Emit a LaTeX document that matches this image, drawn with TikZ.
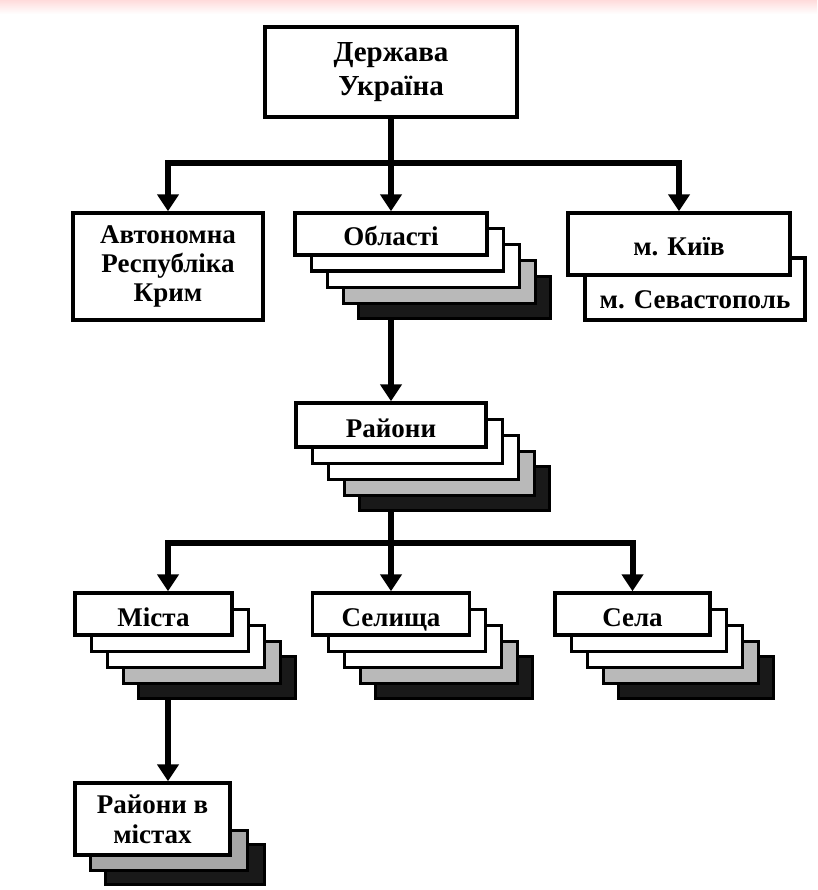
\documentclass[tikz,border=0pt]{standalone}
\usepackage{fontspec}
\setmainfont{Liberation Serif}
\usetikzlibrary{arrows.meta,calc}
\tikzset{
  box/.style={draw, line width=3.4pt, fill=white, align=center, inner sep=0pt,
    font=\fontsize{27}{30}\selectfont\bfseries},
  onebox/.style={box, text height=24pt, text depth=0pt},
  wlayer/.style={draw, line width=3pt, fill=white, inner sep=0pt},
  glayer/.style={draw, line width=3pt, fill=gray!55, inner sep=0pt},
  blayer/.style={draw, line width=3pt, fill=black!90, inner sep=0pt},
  conn/.style={line width=6pt, line join=miter},
  arr/.style={conn, -{Triangle[length=17pt,width=21pt]}}
}
% name, cx, cy, w, h, text
\newcommand{\mystack}[6]{%
  \node[blayer, minimum width=#4pt, minimum height=#5pt] (#1-4) at (#2+63,#3+63) {};
  \node[glayer, minimum width=#4pt, minimum height=#5pt] (#1-3) at (#2+48,#3+48) {};
  \node[wlayer, minimum width=#4pt, minimum height=#5pt] (#1-2) at (#2+32,#3+32) {};
  \node[wlayer, minimum width=#4pt, minimum height=#5pt] (#1-1) at (#2+16,#3+16) {};
  \node[onebox, minimum width=#4pt, minimum height=#5pt] (#1) at (#2,#3) {#6};
}
\begin{document}
\begin{tikzpicture}[x=1pt,y=-1pt]
\useasboundingbox (0,0) rectangle (817,890);
\fill[white] (0,0) rectangle (817,890);
\fill[top color=red!14!white, bottom color=white] (0,0) rectangle (817,14);

% top
\node[box, line width=4pt, minimum width=252pt, minimum height=90pt,
  font=\fontsize{29}{34}\selectfont\bfseries] (top) at (391,72) {Держава\\Україна};

% level 1
\node[box, minimum width=190pt, minimum height=107pt,
  font=\fontsize{27}{29}\selectfont\bfseries] (arc) at (168,266.5) {Автономна\\Республіка\\Крим};
\mystack{ob}{391}{234}{192}{42}{Області}
\node[box, minimum width=220pt, minimum height=62pt] (sev) at (695,289) {};
\node[font=\fontsize{27}{30}\selectfont\bfseries, inner sep=0pt] (sevt) at (695,300) {м. Севастополь};
\node[onebox, minimum width=222pt, minimum height=62pt] (kyiv) at (679,244) {м. Київ};

% level 2
\mystack{rai}{391}{425}{190}{44}{Райони}

% level 3
\mystack{mis}{153.5}{614}{157}{42}{Міста}
\mystack{sel}{391}{614}{157}{42}{Селища}
\mystack{sela}{632.5}{614}{155}{42}{Села}

% level 4
\node[blayer, minimum width=159pt, minimum height=40pt] (rvm-2) at (184.5,864.5) {};
\node[glayer, fill=gray!70, minimum width=157pt, minimum height=40pt] (rvm-1) at (168.5,850) {};
\node[box, minimum width=155pt, minimum height=72pt] (rvm) at (152.5,819) {Райони в\\містах};

% connectors
\coordinate (j1) at (391,163);
\coordinate (j2) at (391,543);
\coordinate (mcol) at (168,543);
\draw[arr] (top.south) -- (ob.north);
\draw[arr] (j1) -| (arc.north);
\draw[arr] (j1) -| (kyiv.north);
\draw[arr] (ob-4.south -| ob.north) -- (rai.north);
\draw[arr] (rai-4.south -| sel.north) -- (sel.north);
\draw[arr] (j2) -| (sela.north);
\draw[arr] (j2) -- (mcol) -- (mcol |- mis.north);
\draw[arr] (mcol |- mis-4.south) -- (mcol |- rvm.north);
\end{tikzpicture}
\end{document}
